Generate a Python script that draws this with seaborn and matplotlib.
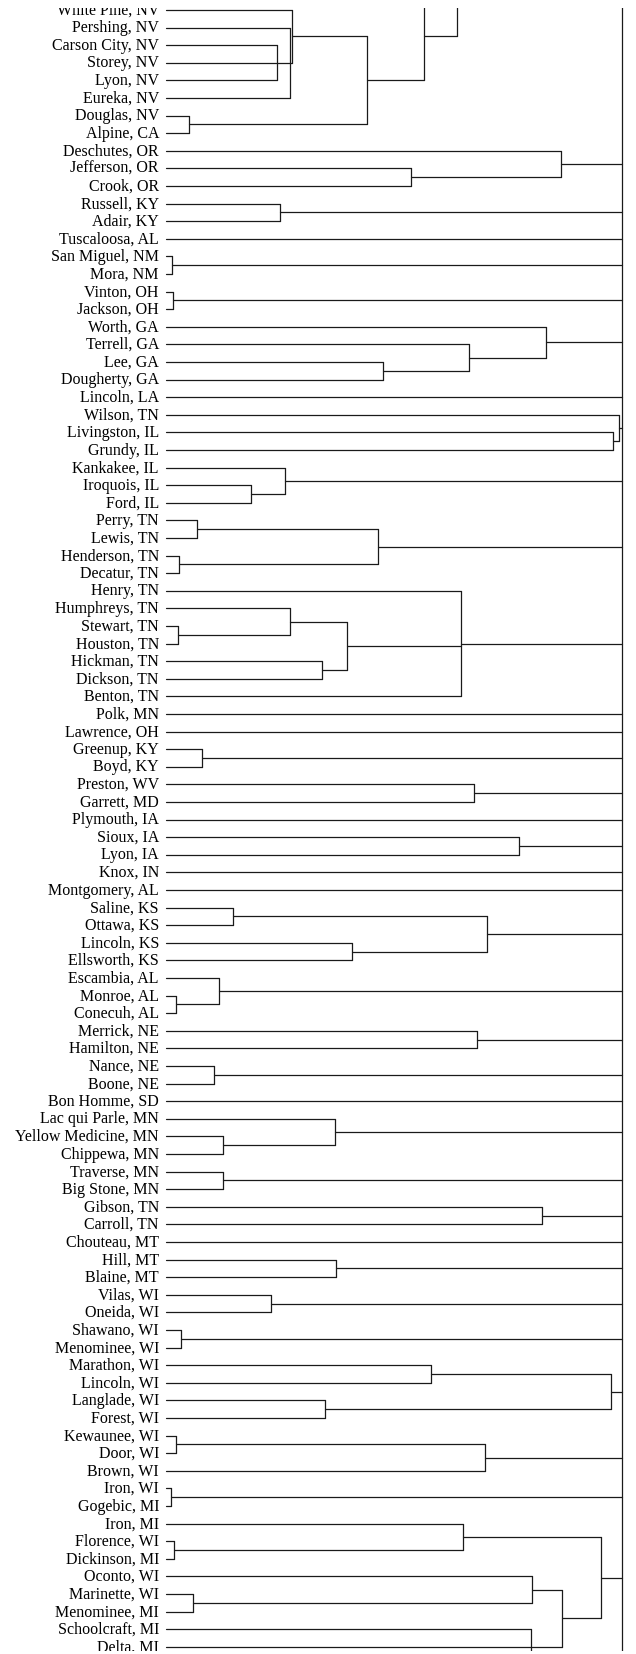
import numpy as np
import pandas as pd
import matplotlib
matplotlib.use("Agg")
import matplotlib.pyplot as plt
import seaborn as sns

# leaves, top to bottom; names starting with "_" sit outside the cropped view
leaves = [
    "_b", "_a",
    "White Pine, NV", "Pershing, NV", "Carson City, NV", "Storey, NV", "Lyon, NV",
    "Eureka, NV", "Douglas, NV", "Alpine, CA", "Deschutes, OR", "Jefferson, OR",
    "Crook, OR", "Russell, KY", "Adair, KY", "Tuscaloosa, AL", "San Miguel, NM",
    "Mora, NM", "Vinton, OH", "Jackson, OH", "Worth, GA", "Terrell, GA", "Lee, GA",
    "Dougherty, GA", "Lincoln, LA", "Wilson, TN", "Livingston, IL", "Grundy, IL",
    "Kankakee, IL", "Iroquois, IL", "Ford, IL", "Perry, TN", "Lewis, TN",
    "Henderson, TN", "Decatur, TN", "Henry, TN", "Humphreys, TN", "Stewart, TN",
    "Houston, TN", "Hickman, TN", "Dickson, TN", "Benton, TN", "Polk, MN",
    "Lawrence, OH", "Greenup, KY", "Boyd, KY", "Preston, WV", "Garrett, MD",
    "Plymouth, IA", "Sioux, IA", "Lyon, IA", "Knox, IN", "Montgomery, AL",
    "Saline, KS", "Ottawa, KS", "Lincoln, KS", "Ellsworth, KS", "Escambia, AL",
    "Monroe, AL", "Conecuh, AL", "Merrick, NE", "Hamilton, NE", "Nance, NE",
    "Boone, NE", "Bon Homme, SD", "Lac qui Parle, MN", "Yellow Medicine, MN",
    "Chippewa, MN", "Traverse, MN", "Big Stone, MN", "Gibson, TN", "Carroll, TN",
    "Chouteau, MT", "Hill, MT", "Blaine, MT", "Vilas, WI", "Oneida, WI",
    "Shawano, WI", "Menominee, WI", "Marathon, WI", "Lincoln, WI", "Langlade, WI",
    "Forest, WI", "Kewaunee, WI", "Door, WI", "Brown, WI", "Iron, WI",
    "Gogebic, MI", "Iron, MI", "Florence, WI", "Dickinson, MI", "Oconto, WI",
    "Marinette, WI", "Menominee, MI", "Schoolcraft, MI", "Delta, MI",
    "_c", "_d",
]

# merges: (node, children, height as share of the root height)
merges = [
    ("csl", ["Carson City, NV", "Storey, NV", "Lyon, NV"], 0.244),
    ("nv1", ["Pershing, NV", "csl", "Eureka, NV"], 0.273),
    ("nv", ["White Pine, NV", "nv1"], 0.276),
    ("da", ["Douglas, NV", "Alpine, CA"], 0.050),
    ("nvda", ["nv", "da"], 0.441),
    ("top1", ["_a", "nvda"], 0.566),
    ("top2", ["_b", "top1"], 0.639),
    ("jc", ["Jefferson, OR", "Crook, OR"], 0.537),
    ("or", ["Deschutes, OR", "jc"], 0.867),
    ("ra", ["Russell, KY", "Adair, KY"], 0.251),
    ("sm", ["San Miguel, NM", "Mora, NM"], 0.013),
    ("vj", ["Vinton, OH", "Jackson, OH"], 0.016),
    ("ld", ["Lee, GA", "Dougherty, GA"], 0.476),
    ("tld", ["Terrell, GA", "ld"], 0.664),
    ("ga", ["Worth, GA", "tld"], 0.833),
    ("lg", ["Livingston, IL", "Grundy, IL"], 0.980),
    ("wlg", ["Wilson, TN", "lg"], 0.994),
    ("iford", ["Iroquois, IL", "Ford, IL"], 0.186),
    ("kif", ["Kankakee, IL", "iford"], 0.261),
    ("pl", ["Perry, TN", "Lewis, TN"], 0.069),
    ("hdec", ["Henderson, TN", "Decatur, TN"], 0.028),
    ("tn1", ["pl", "hdec"], 0.464),
    ("sh", ["Stewart, TN", "Houston, TN"], 0.027),
    ("hsh", ["Humphreys, TN", "sh"], 0.273),
    ("hdk", ["Hickman, TN", "Dickson, TN"], 0.342),
    ("tn2", ["hsh", "hdk"], 0.396),
    ("henry", ["Henry, TN", "tn2", "Benton, TN"], 0.647),
    ("gb", ["Greenup, KY", "Boyd, KY"], 0.078),
    ("pg", ["Preston, WV", "Garrett, MD"], 0.676),
    ("sl", ["Sioux, IA", "Lyon, IA"], 0.774),
    ("so", ["Saline, KS", "Ottawa, KS"], 0.147),
    ("le", ["Lincoln, KS", "Ellsworth, KS"], 0.407),
    ("ks", ["so", "le"], 0.703),
    ("mc", ["Monroe, AL", "Conecuh, AL"], 0.023),
    ("al", ["Escambia, AL", "mc"], 0.117),
    ("mh", ["Merrick, NE", "Hamilton, NE"], 0.681),
    ("nb", ["Nance, NE", "Boone, NE"], 0.105),
    ("yc", ["Yellow Medicine, MN", "Chippewa, MN"], 0.124),
    ("lyc", ["Lac qui Parle, MN", "yc"], 0.370),
    ("tb", ["Traverse, MN", "Big Stone, MN"], 0.126),
    ("gc", ["Gibson, TN", "Carroll, TN"], 0.825),
    ("hb", ["Hill, MT", "Blaine, MT"], 0.372),
    ("vo", ["Vilas, WI", "Oneida, WI"], 0.231),
    ("smw", ["Shawano, WI", "Menominee, WI"], 0.033),
    ("ml", ["Marathon, WI", "Lincoln, WI"], 0.581),
    ("lf", ["Langlade, WI", "Forest, WI"], 0.349),
    ("wi4", ["ml", "lf"], 0.976),
    ("kd", ["Kewaunee, WI", "Door, WI"], 0.021),
    ("kdb", ["kd", "Brown, WI"], 0.699),
    ("ig", ["Iron, WI", "Gogebic, MI"], 0.011),
    ("fd", ["Florence, WI", "Dickinson, MI"], 0.018),
    ("ironmi", ["Iron, MI", "fd"], 0.652),
    ("mm", ["Marinette, WI", "Menominee, MI"], 0.059),
    ("omm", ["Oconto, WI", "mm"], 0.802),
    ("sc", ["Schoolcraft, MI", "Delta, MI", "_c"], 0.800),
    ("sdo", ["omm", "sc"], 0.868),
    ("mi", ["ironmi", "sdo"], 0.955),
    ("root", ["top2", "or", "ra", "Tuscaloosa, AL", "sm", "vj", "ga", "Lincoln, LA",
              "wlg", "kif", "tn1", "henry", "Polk, MN", "Lawrence, OH", "gb", "pg",
              "Plymouth, IA", "sl", "Knox, IN", "Montgomery, AL", "ks", "al", "mh",
              "nb", "Bon Homme, SD", "lyc", "tb", "gc", "Chouteau, MT", "hb", "vo",
              "smw", "wi4", "kdb", "ig", "mi", "_d"], 1.0),
]

# layout of the crop, in pixels
W, H = 636, 1654
X_LEAF, X_ROOT = 166, 622
Y_FIRST, PITCH = 10, 17.6
N_HIDDEN_TOP = 2

pos = {name: i - N_HIDDEN_TOP for i, name in enumerate(leaves)}
height = {name: 0.0 for name in leaves}
parent = {}
for node, kids, h in merges:
    pos[node] = np.mean([pos[k] for k in kids])
    height[node] = h
    for k in kids:
        parent[k] = node

rows = []
seg = 0
for node in pos:
    if node in parent:
        rows += [(height[node], pos[node], seg), (height[parent[node]], pos[node], seg)]
        seg += 1
for node, kids, h in merges:
    ys = [pos[k] for k in kids]
    rows += [(h, min(ys), seg), (h, max(ys), seg)]
    seg += 1
segments = pd.DataFrame(rows, columns=["x", "y", "seg"])

sns.set_theme(style="white")
fig = plt.figure(figsize=(W / 100, H / 100), dpi=100)
ax = fig.add_axes([0, 3 / H, 1, (H - 8 - 3) / H])
sns.lineplot(data=segments, x="x", y="y", units="seg", estimator=None, sort=False,
             color="#1a1a1a", linewidth=0.9, ax=ax, legend=False)

span = X_ROOT - X_LEAF
ax.set_xlim(-X_LEAF / span, (W - X_LEAF) / span)
ax.set_ylim((H - 3 - Y_FIRST) / PITCH, (8 - Y_FIRST) / PITCH)
ax.axis("off")

for name in leaves:
    if name.startswith("_"):
        continue
    ax.text(-7 / span, pos[name] + 0.26, name, ha="right", va="baseline",
            fontsize=11.5, family=["Liberation Serif", "DejaVu Serif"],
            color="black", clip_on=True)

fig.savefig("out.png", dpi=100)
